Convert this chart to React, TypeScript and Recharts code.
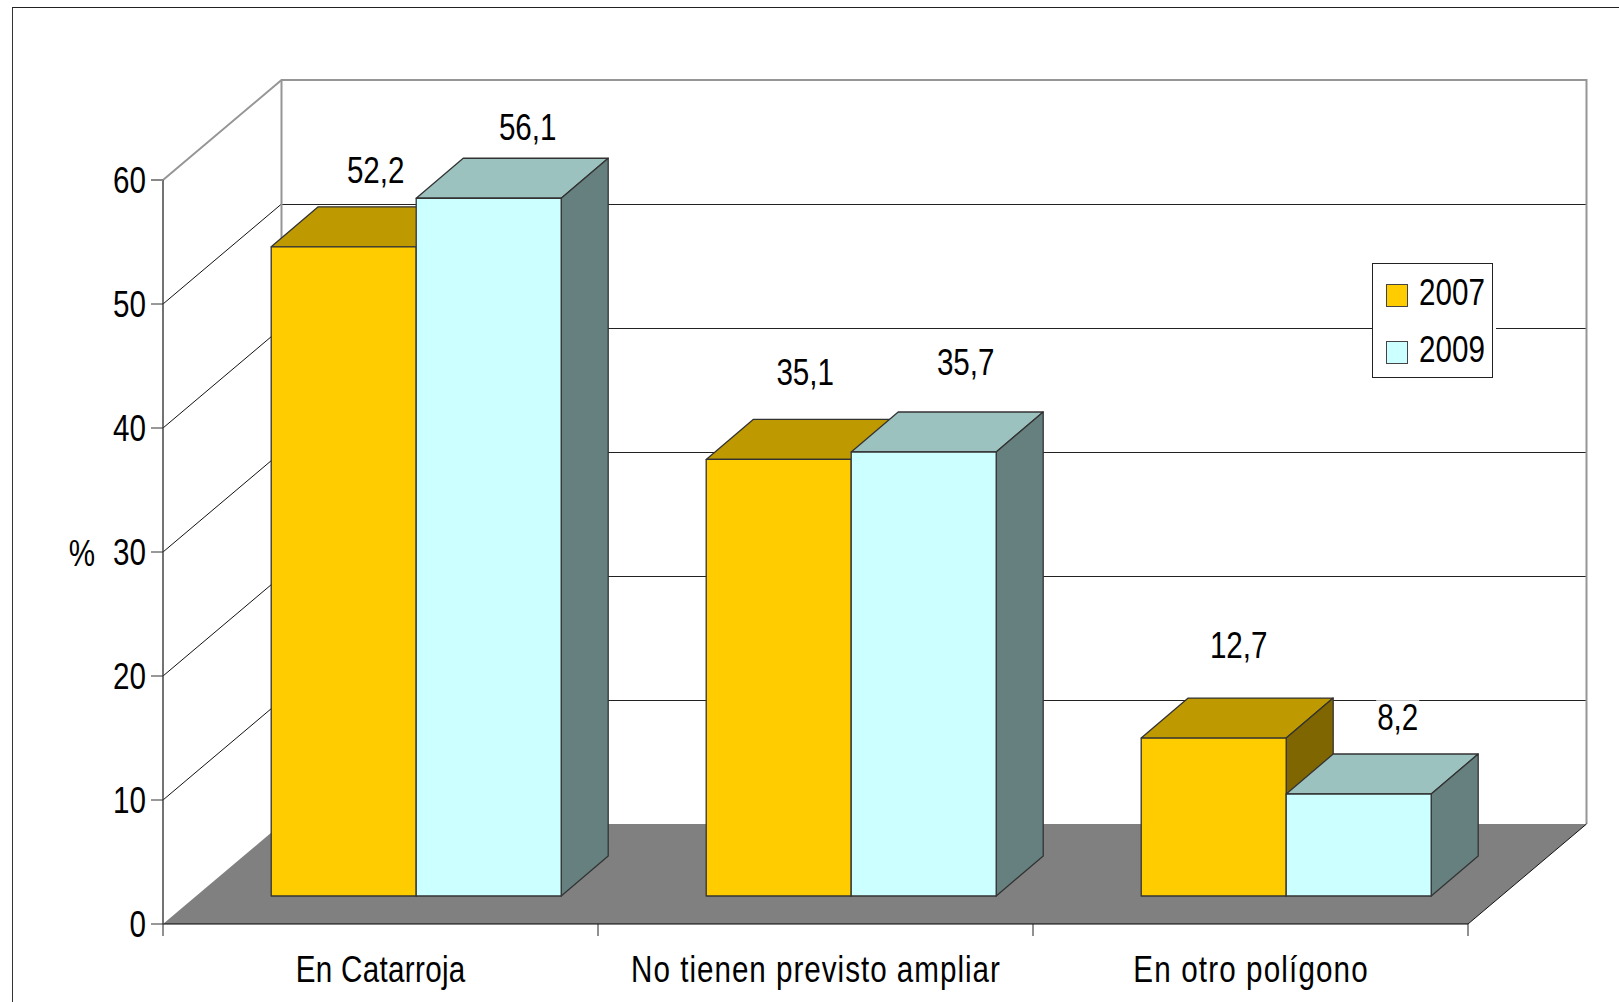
import React from "react";
import {
  BarChart, Bar, XAxis, YAxis, CartesianGrid, Legend, LabelList, ReferenceArea,
} from "recharts";

const CATEGORIES = ["En Catarroja", "No tienen previsto ampliar", "En otro polígono"];
const VALUES_2007 = [52.2, 35.1, 12.7];
const VALUES_2009 = [56.1, 35.7, 8.2];
const Y_TICKS = [0, 10, 20, 30, 40, 50, 60];

const data = CATEGORIES.map((name, i) => ({ name, v2007: VALUES_2007[i], v2009: VALUES_2009[i] }));

// fake 3D: wall depth, bar plane offset and bar depth, in px
const WALL_DX = 118.5;
const WALL_DY = 100;
const PLANE_DX = 35.2;
const PLANE_DY = 28;
const BAR_DX = 47;
const BAR_DY = 40;
const BAR_STRETCH = 1.003;
const PLOT_W = 1305;
const STEP = PLOT_W / CATEGORIES.length;

const FONT_SIZE = 37;
const SQUEEZE = 0.8;
const EDGE = "#333333";
const WALL = "#969696";

// label position relative to the bar front: x from centre, y from top to baseline
const NUDGE_2007 = [[32, -66], [26.5, -76], [25, -81]];
const NUDGE_2009 = [[39, -60], [42, -78], [39, -64]];
// the category labels are spaced out wider than the squeezed font
const CATEGORY_TEXT_LENGTH = [212, 461, 293];

function Narrow({ x, y, anchor = "middle", textLength, children }: any) {
  return (
    <text
      transform={`translate(${x} ${y}) scale(${SQUEEZE} 1)`}
      textAnchor={anchor}
      fontFamily="Liberation Sans"
      fontSize={FONT_SIZE}
      fill="#000"
      textLength={textLength}
      lengthAdjust={textLength ? "spacing" : undefined}
    >
      {children}
    </text>
  );
}

function Box3D({ x, y, width, height, fill, topFill, sideFill }: any) {
  const l = x + PLANE_DX;
  const r = l + width;
  const b = y - PLANE_DY + height;
  const t = b - height * BAR_STRETCH;
  const common = { stroke: EDGE, strokeWidth: 1.3, strokeLinejoin: "round" as const };
  return (
    <g>
      <polygon points={`${l},${t} ${l + BAR_DX},${t - BAR_DY} ${r + BAR_DX},${t - BAR_DY} ${r},${t}`} fill={topFill} {...common} />
      <polygon points={`${r},${t} ${r + BAR_DX},${t - BAR_DY} ${r + BAR_DX},${b - BAR_DY} ${r},${b}`} fill={sideFill} {...common} />
      <rect x={l} y={t} width={width} height={b - t} fill={fill} {...common} />
    </g>
  );
}

function ValueLabel({ x, y, width, index, value, nudge }: any) {
  const cx = x + PLANE_DX + width / 2 + nudge[index][0];
  const base = y - PLANE_DY + nudge[index][1];
  const text = Number(value).toFixed(1).replace(".", ",");
  const w = text.length > 3 ? 64 : 43;
  return (
    <g>
      <rect x={cx - w / 2} y={base - 30} width={w} height={38} fill="#fff" />
      <Narrow x={cx} y={base}>{text}</Narrow>
    </g>
  );
}

function WallsAndFloor({ x, y, width, height }: any) {
  const b = y + height;
  const r = x + width;
  return (
    <g fill="none">
      <polygon
        points={`${x},${b} ${x + WALL_DX},${b - WALL_DY} ${r + WALL_DX},${b - WALL_DY} ${r},${b}`}
        fill="#808080"
      />
      <polyline
        points={`${x},${y} ${x + WALL_DX},${y - WALL_DY} ${r + WALL_DX},${y - WALL_DY} ${r + WALL_DX},${b - WALL_DY}`}
        stroke={WALL}
        strokeWidth={2}
      />
      <line x1={x + WALL_DX} y1={y - WALL_DY} x2={x + WALL_DX} y2={b - WALL_DY} stroke={WALL} strokeWidth={2} />
      <line x1={r} y1={b} x2={r + WALL_DX} y2={b - WALL_DY} stroke="#111" strokeWidth={1} />
    </g>
  );
}

// each grid value is a diagonal on the side wall plus a line on the back wall
function gridLine(p: any) {
  const isEnd = Math.abs(p.y1 - p.y) < 1 || Math.abs(p.y1 - (p.y + p.height)) < 1;
  if (isEnd) return <g key={p.key} />;
  return (
    <g key={p.key} stroke="#222" strokeWidth={1}>
      <line x1={p.x1} y1={p.y1} x2={p.x1 + WALL_DX} y2={p.y1 - WALL_DY} stroke="#111" />
      <line x1={p.x1 + WALL_DX} y1={p.y1 - WALL_DY + 0.5} x2={p.x2 + WALL_DX} y2={p.y1 - WALL_DY + 0.5} />
    </g>
  );
}

function YTick({ x, y, payload }: any) {
  const top = payload.value === Y_TICKS[Y_TICKS.length - 1];
  return (
    <g>
      <line x1={x + 6} y1={y} x2={x + 18} y2={y} stroke={top ? "#888" : "#333"} strokeWidth={top ? 2 : 1} />
      <Narrow x={x + 1} y={y + 12.5} anchor="end">{payload.value}</Narrow>
    </g>
  );
}

function XTick({ x, y, payload, index }: any) {
  return (
    <g>
      <line x1={x - STEP / 2} y1={y} x2={x - STEP / 2} y2={y + 12} stroke="#222" strokeWidth={1} />
      {index === CATEGORIES.length - 1 && (
        <line x1={x + STEP / 2} y1={y} x2={x + STEP / 2} y2={y + 12} stroke="#222" strokeWidth={1} />
      )}
      <Narrow x={x} y={y + 58} textLength={CATEGORY_TEXT_LENGTH[index]}>{payload.value}</Narrow>
    </g>
  );
}

function LegendBox({ payload }: any) {
  return (
    <div
      style={{
        width: 121,
        height: 115,
        boxSizing: "border-box",
        background: "#fff",
        border: "1px solid #222",
        boxShadow: "3px 0 0 #fff",
        position: "relative",
        fontFamily: "Liberation Sans",
        fontSize: FONT_SIZE,
        lineHeight: "42px",
      }}
    >
      {(payload ?? []).map((item: any, i: number) => (
        <div key={item.value} style={{ position: "absolute", left: 13, top: 20 + i * 57 }}>
          <span
            style={{
              position: "absolute",
              left: 0,
              top: 0,
              width: 22,
              height: 23,
              boxSizing: "border-box",
              background: item.color,
              border: "1px solid #444",
            }}
          />
          <span
            style={{
              position: "absolute",
              left: 33,
              top: -12,
              transform: `scaleX(${SQUEEZE})`,
              transformOrigin: "left",
              color: "#000",
            }}
          >
            {item.value}
          </span>
        </div>
      ))}
    </div>
  );
}

export default function App() {
  return (
    <div style={{ position: "absolute", left: 0, top: 0, width: 1619, height: 1002, overflow: "hidden", background: "#fff" }}>
      <div
        style={{
          position: "absolute",
          left: 11.5,
          top: 6.5,
          right: -5,
          bottom: -5,
          borderTop: "1.5px solid #222",
          borderLeft: "1.5px solid #333",
        }}
      />
      <BarChart
        width={1619}
        height={1002}
        data={data}
        margin={{ top: 180, right: 151, bottom: 0, left: 0 }}
        barCategoryGap={73}
        barGap={0}
        style={{ position: "absolute", left: 0, top: 0 }}
      >
        <ReferenceArea y1={0} y2={60} ifOverflow="visible" shape={WallsAndFloor} />
        <CartesianGrid vertical={false} horizontal={gridLine} />
        <XAxis
          dataKey="name"
          height={78}
          interval={0}
          tickSize={0}
          tickMargin={0}
          tickLine={false}
          axisLine={{ stroke: "#000", strokeWidth: 1 }}
          tick={XTick}
        />
        <YAxis
          width={163}
          domain={[0, 60]}
          ticks={Y_TICKS}
          interval={0}
          tickSize={12}
          tickMargin={6}
          tickLine={false}
          axisLine={{ stroke: "#444", strokeWidth: 1.5 }}
          tick={YTick}
          label={{ value: "%", content: () => <Narrow x={82} y={566}>%</Narrow> }}
        />
        <Bar
          dataKey="v2007"
          name="2007"
          fill="#ffcc00"
          isAnimationActive={false}
          shape={(p: any) => <Box3D {...p} topFill="#bf9900" sideFill="#806600" />}
        >
          <LabelList dataKey="v2007" content={(p: any) => <ValueLabel {...p} nudge={NUDGE_2007} />} />
        </Bar>
        <Bar
          dataKey="v2009"
          name="2009"
          fill="#ccffff"
          isAnimationActive={false}
          shape={(p: any) => <Box3D {...p} topFill="#9cc2bf" sideFill="#668080" />}
        >
          <LabelList dataKey="v2009" content={(p: any) => <ValueLabel {...p} nudge={NUDGE_2009} />} />
        </Bar>
        <Legend
          layout="horizontal"
          align="center"
          verticalAlign="middle"
          content={LegendBox}
          wrapperStyle={{ left: 1371.5, top: 263, width: 121, height: 115 }}
        />
      </BarChart>
    </div>
  );
}
